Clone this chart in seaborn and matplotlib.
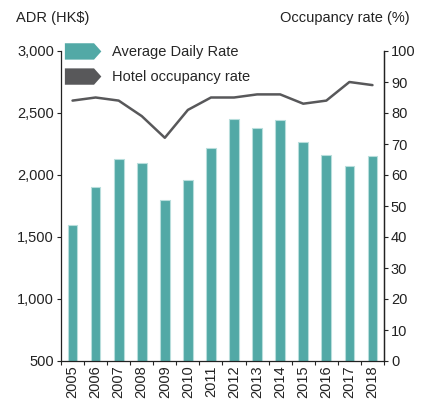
import numpy as np
import pandas as pd
import matplotlib
matplotlib.use("Agg")
import matplotlib.pyplot as plt
import seaborn as sns
from matplotlib.patches import Patch, Polygon
from matplotlib.legend_handler import HandlerPatch

years = ["2005", "2006", "2007", "2008", "2009", "2010", "2011",
         "2012", "2013", "2014", "2015", "2016", "2017", "2018"]
adr = [1600, 1900, 2130, 2100, 1800, 1960, 2220,
       2450, 2380, 2440, 2270, 2160, 2070, 2150]
occupancy = [84, 85, 84, 79, 72, 81, 85, 85, 86, 86, 83, 84, 90, 89]

teal = "#52a9a6"
grey = "#58585a"

sns.set_style("white")
plt.rcParams['font.family'] = ['Liberation Sans', 'DejaVu Sans']

df = pd.DataFrame({"year": years, "adr": adr, "occ": occupancy})


class ArrowHandler(HandlerPatch):
    # pentagon "arrow" swatch like the original legend
    def create_artists(self, legend, orig_handle, xdescent, ydescent,
                       width, height, fontsize, trans):
        w, h = width, height
        pts = [[-xdescent, -ydescent], [-xdescent + w * 0.8, -ydescent],
               [-xdescent + w, -ydescent + h / 2], [-xdescent + w * 0.8, -ydescent + h],
               [-xdescent, -ydescent + h]]
        p = Polygon(pts, closed=True, facecolor=orig_handle.get_facecolor(),
                    edgecolor="none", transform=trans)
        return [p]


fig = plt.figure(figsize=(4.22, 4.03), dpi=100)
ax = fig.add_axes([61 / 422, 1 - 361 / 403, 323 / 422, 310 / 403])

sns.barplot(data=df, x="year", y="adr", color=teal, width=0.42,
            edgecolor="#b8dedc", linewidth=0.8, saturation=1, ax=ax)
ax.set_ylim(500, 3000)
ax.set_xlim(-0.5, 13.5)
ax.set_yticks([500, 1000, 1500, 2000, 2500, 3000])
ax.set_yticklabels(["500", "1,000", "1,500", "2,000", "2,500", "3,000"])
ax.set_xlabel("")
ax.set_ylabel("")
ax.tick_params(axis="x", rotation=90, length=0, labelsize=10.5, pad=3, colors="#222222")
ax.tick_params(axis="y", length=3, width=0.8, labelsize=10.5, pad=2, colors="#222222",
               left=True)
ax.set_xticks(np.arange(-0.5, 14, 1), minor=True)
ax.tick_params(axis="x", which="minor", length=3, width=0.8, bottom=True)
for s in ["left", "bottom", "right"]:
    ax.spines[s].set_color("#222222")
    ax.spines[s].set_linewidth(0.9)
ax.spines["top"].set_visible(False)

ax2 = ax.twinx()
sns.lineplot(x=np.arange(len(years)), y=occupancy, color=grey, linewidth=1.8, ax=ax2)
ax2.set_ylim(0, 100)
ax2.set_yticks(range(0, 101, 10))
ax2.tick_params(axis="y", length=3, width=0.8, labelsize=10.5, pad=2, colors="#222222",
                right=True)
ax2.spines["top"].set_visible(False)
ax2.spines["left"].set_visible(False)
ax2.spines["bottom"].set_visible(False)
ax2.spines["right"].set_color("#222222")
ax2.spines["right"].set_linewidth(0.9)

handles = [Patch(facecolor=teal), Patch(facecolor=grey)]
ax2.legend(handles, ["Average Daily Rate", "Hotel occupancy rate"],
           handler_map={Patch: ArrowHandler()}, loc="upper left",
           bbox_to_anchor=(0.012, 1.025), frameon=False, fontsize=10.5,
           handlelength=2.5, handleheight=1.35, labelspacing=0.6, handletextpad=0.7,
           borderaxespad=0, borderpad=0)

fig.text(16 / 422, 1 - 18 / 403, "ADR (HK$)", fontsize=10.5, va="center", ha="left",
         color="#222222")
fig.text(410 / 422, 1 - 18 / 403, "Occupancy rate (%)", fontsize=10.5, va="center",
         ha="right", color="#222222")

fig.savefig("out.png", dpi=100)
